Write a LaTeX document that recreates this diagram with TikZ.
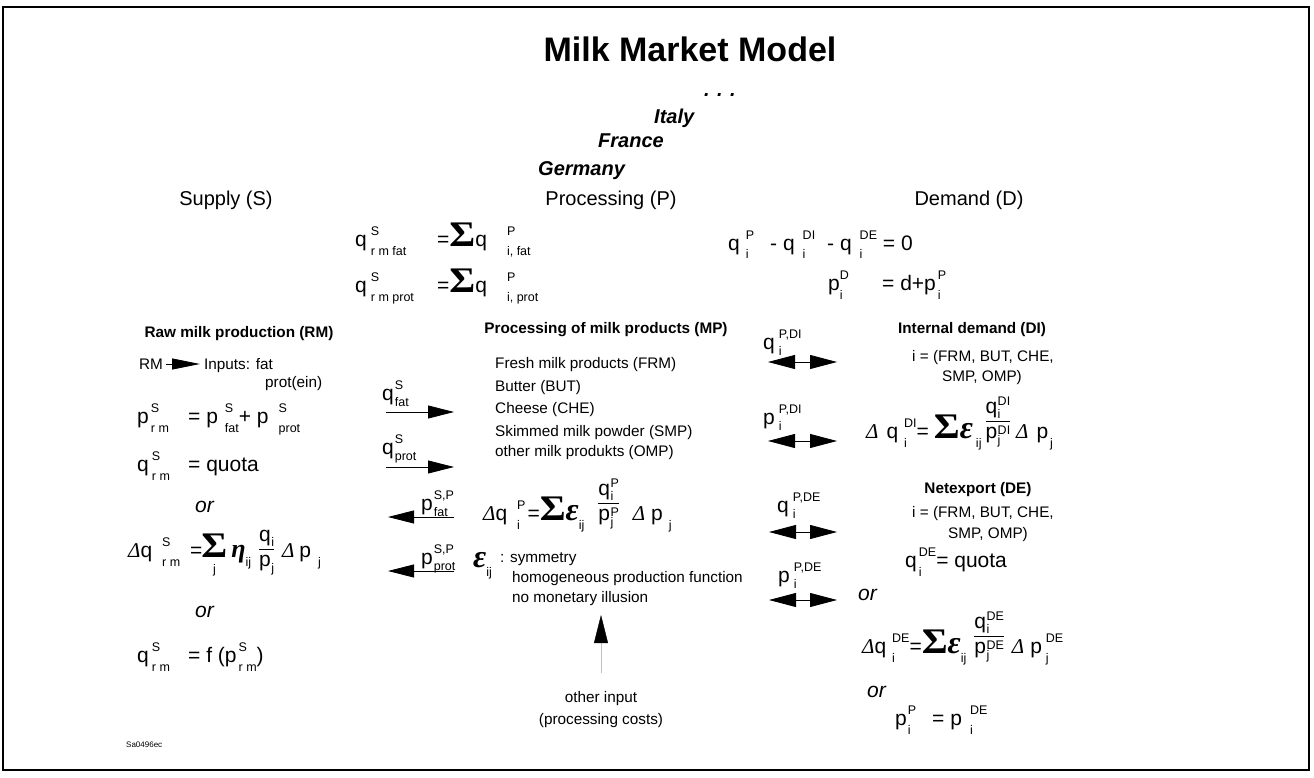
\documentclass[tikz,border=0pt]{standalone}
\usepackage{fontspec}
\usepackage{graphicx}
\setmainfont{Liberation Sans}
\newfontfamily\grk{Liberation Serif}
\usetikzlibrary{arrows.meta}

\newcommand\eqf{\fontsize{21}{24}\selectfont}
\newcommand\txf{\fontsize{15.3}{18}\selectfont}
\newcommand\colf{\fontsize{20}{24}\selectfont}
\newcommand\scr{\fontsize{12.5}{14}\selectfont}
\newcommand\supsub[5]{\hspace{#1}{\scr\setbox0=\hbox{\raisebox{#2}{#4}}\setbox2=\hbox{\raisebox{#3}{#5}}\ifdim\wd0<\wd2 \wd0=\wd2\fi\rlap{\box2}\box0}}
\newcommand\sx[3][1pt]{\supsub{#1}{11pt}{-9pt}{#2}{#3}}
\newcommand\sxl[3][1pt]{\supsub{#1}{11pt}{-6pt}{#2}{#3}}
\newcommand\sxf[3][0.5pt]{\supsub{#1}{8pt}{-5pt}{#2}{#3}}
\newcommand\sxd[3][0.5pt]{\supsub{#1}{4pt}{-6pt}{#2}{#3}}
\newcommand\bsum{{\grk\bfseries\fontsize{36}{36}\selectfont\scalebox{1.1}[1]{Σ}}}
\newcommand\eps{{\grk\bfseries\itshape\fontsize{32}{32}\selectfont ε}}
\newcommand\eet{{\grk\bfseries\itshape\fontsize{26}{26}\selectfont η}}
\newcommand\dd{{\grk\itshape Δ}}
\setlength\arrayrulewidth{0.6pt}
\newcommand\frc[3][0pt]{\raisebox{#1}{\begin{tabular}[b]{@{}c@{}}#2\\\hline #3\end{tabular}}}

\begin{document}
\begin{tikzpicture}[x=1pt,y=-1pt]
\tikzset{every node/.style={inner sep=0pt}}
\tikzset{eq/.style={anchor=base west,font=\eqf}}
\tikzset{tx/.style={anchor=base west,font=\txf}}
\tikzset{hd/.style={anchor=base,font=\txf\bfseries}}
\tikzset{col/.style={anchor=base,font=\colf}}
\tikzset{land/.style={anchor=base west,font=\colf\bfseries\itshape}}
\tikzset{ortext/.style={anchor=base west,font=\eqf\itshape}}
\tikzset{flow/.style={-{Triangle[length=26pt,width=13pt]},line width=0.8pt}}
\tikzset{dflow/.style={{Triangle[length=27pt,width=14pt]}-{Triangle[length=27pt,width=14pt]},line width=0.8pt}}

\useasboundingbox (0,0) rectangle (1314,778);
\draw[line width=1.5pt] (3,7) rectangle (1309,770);

\node[anchor=base,font=\fontsize{34}{40}\selectfont\bfseries] (title) at (690,62) {Milk Market Model};
\node[land] (dots) at (704,97) {. . .};
\node[land] (italy) at (654,124) {Italy};
\node[land] (france) at (598,148) {France};
\node[land] (germany) at (538,176) {Germany};
\node[col] (supply) at (226,206) {Supply (S)};
\node[col] (processing) at (611,206) {Processing (P)};
\node[col] (demand) at (969,206) {Demand (D)};

\node[eq] (balfat) at (355,247) {q\sx[4pt]{S}{r m fat}};
\node[eq] (sumfat) at (437,247) {=\bsum q\sx[20pt]{P}{i, fat}};
\node[eq] (balprot) at (355,292) {q\sx[4pt]{S}{r m prot}};
\node[eq] (sumprot) at (437,292) {=\bsum q\sx[20pt]{P}{i, prot}};
\node[eq] (clear) at (728,250) {q\sx[6pt]{P}{i}\hspace{16pt}- q\sx[8pt]{DI}{i}\hspace{12pt}- q\sx[8pt]{DE}{i} = 0};
\node[eq] (pd) at (828,290) {p\sx[0pt]{D}{i}};
\node[eq] (pdsum) at (882,290) {= d+p\sx[2pt]{P}{i}};

\node[hd] (rmhead) at (239,337) {Raw milk production (RM)};
\node[tx] (rm) at (139,369) {RM};
\coordinate (rmA) at (166,364);
\coordinate (rmB) at (200,364);
\draw[-{Triangle[length=28pt,width=11pt]},line width=0.8pt] (rmA) -- (rmB);
\node[tx] (inputs) at (204,369) {Inputs: fat};
\node[tx] (protein) at (265,387) {prot(ein)};
\node[eq] (psrm) at (137,423) {p\sx[2pt]{S}{r m}};
\node[eq] (psum) at (188,423) {= p\sx[7pt]{S}{fat}+ p\sx[10pt]{S}{prot}};
\node[eq] (qsrm) at (137,471) {q\sx[3pt]{S}{r m}};
\node[eq] (quota) at (188,471) {= quota};
\node[ortext] (or1) at (195,512) {or};
\node[eq] (dqsrm) at (128,557) {\dd q\sx[10pt]{S}{r m}};
\node[eq] (dqssum) at (190,557) {=\hspace{-1pt}$\mathop{\mbox{\bsum}}\limits_{\mbox{\scr\rule{0pt}{15pt}j}}$\hspace{4pt}\eet\sx[0pt]{}{ij}\hspace{8pt}\frc[-9pt]{q\sxf{}{i}}{p\sxd{}{j}}\hspace{8pt}\dd\hspace{5pt}p\sx[7pt]{}{j}};
\node[ortext] (or2) at (195,617) {or};
\node[eq] (qsf) at (137,662) {q\sx[3pt]{S}{r m}};
\node[eq] (fp) at (188,662) {= f (p\sx[2pt]{S}{r m})};
\node[anchor=base west,font=\fontsize{8}{9}\selectfont] (code) at (126,747) {Sa0496ec};

\node[hd] (mphead) at (606,333) {Processing of milk products (MP)};
\node[tx] (frm) at (495,368) {Fresh milk products (FRM)};
\node[tx] (but) at (495,391) {Butter (BUT)};
\node[tx] (che) at (495,413) {Cheese (CHE)};
\node[tx] (smp) at (495,436) {Skimmed milk powder (SMP)};
\node[tx] (omp) at (495,456) {other milk produkts (OMP)};

\node[eq] (qfat) at (382,400) {q\sxl{S}{fat}};
\coordinate (qfatA) at (386,412);
\coordinate (qfatB) at (454,412);
\draw[flow] (qfatA) -- (qfatB);
\node[eq] (qprot) at (382,454) {q\sxl{S}{prot}};
\coordinate (qprotA) at (386,467);
\coordinate (qprotB) at (454,467);
\draw[flow] (qprotA) -- (qprotB);
\node[eq] (pfat) at (421,510) {p\sxl{S,P}{fat}};
\coordinate (pfatA) at (454,517);
\coordinate (pfatB) at (388,517);
\draw[flow] (pfatA) -- (pfatB);
\node[eq] (pprot) at (421,564) {p\sxl{S,P}{prot}};
\coordinate (pprotA) at (454,571);
\coordinate (pprotB) at (388,571);
\draw[flow] (pprotA) -- (pprotB);

\node[eq] (dqp) at (483,520) {\dd q\sx[10pt]{P}{i}\hspace{2pt}=\bsum\eps\sx[0pt]{}{ij}\hspace{14pt}\frc{q\sxf{P}{i}}{p\sxd{P}{j}}\hspace{14pt}\dd\hspace{6pt}p\sx[6pt]{}{j}};
\node[eq] (epsij) at (473,567) {\eps\sx[0pt]{}{ij}};
\node[tx] (sym) at (500,562) {: symmetry};
\node[tx] (homog) at (512,582) {homogeneous production function};
\node[tx] (illus) at (512,602) {no monetary illusion};
\node[tx,anchor=base] (other) at (601,702) {other input};
\node[tx,anchor=base] (costs) at (601,724) {(processing costs)};
\coordinate (costA) at (601,673);
\coordinate (costB) at (601,615);
\draw[-{Triangle[length=28pt,width=14pt,color=black]},line width=0.4pt,draw=black!25] (costA) -- (costB);

\node[eq] (qdi) at (763,349) {q\sxl[4pt]{P,DI}{i}};
\coordinate (qdiA) at (768,362);
\coordinate (qdiB) at (837,362);
\draw[dflow] (qdiA) -- (qdiB);
\node[eq] (pdi) at (763,424) {p\sxl[4pt]{P,DI}{i}};
\coordinate (pdiA) at (768,441);
\coordinate (pdiB) at (837,441);
\draw[dflow] (pdiA) -- (pdiB);
\node[eq] (qde) at (777,512) {q\sxl[4pt]{P,DE}{i}};
\coordinate (qdeA) at (769,532);
\coordinate (qdeB) at (837,532);
\draw[dflow] (qdeA) -- (qdeB);
\node[eq] (pde) at (778,582) {p\sxl[4pt]{P,DE}{i}};
\coordinate (pdeA) at (769,600);
\coordinate (pdeB) at (837,600);
\draw[dflow] (pdeA) -- (pdeB);

\node[hd] (dihead) at (972,333) {Internal demand (DI)};
\node[tx] (di1) at (912,361) {i = (FRM, BUT, CHE,};
\node[tx] (di2) at (942,381) {SMP, OMP)};
\node[eq] (dqdi) at (866,438) {\dd\hspace{8pt}q\sx[6pt]{DI}{i}=\hspace{5pt}\bsum\eps\sx[3pt]{}{ij}\hspace{4pt}\frc{q\sxf{DI}{i}}{p\sxd{DI}{j}}\hspace{6pt}\dd\hspace{8pt}p\sx[2pt]{}{j}};
\node[hd] (dehead) at (978,493) {Netexport (DE)};
\node[tx] (de1) at (912,517) {i = (FRM, BUT, CHE,};
\node[tx] (de2) at (948,538) {SMP, OMP)};
\node[eq] (qdeq) at (905,567) {q\sx[2pt]{DE}{i}= quota};
\node[ortext] (or3) at (858,600) {or};
\node[eq] (dqde) at (862,653) {\dd q\sx[6pt]{DE}{i}=\bsum\eps\sx[0pt]{}{ij}\hspace{8pt}\frc{q\sxf{DE}{i}}{p\sxd{DE}{j}}\hspace{8pt}\dd\hspace{6pt}p\sx[4pt]{DE}{j}};
\node[ortext] (or4) at (867,697) {or};
\node[eq] (ppde) at (895,725) {p\sx[1pt]{P}{i}\hspace{16pt}= p\sx[8pt]{DE}{i}};
\end{tikzpicture}
\end{document}
